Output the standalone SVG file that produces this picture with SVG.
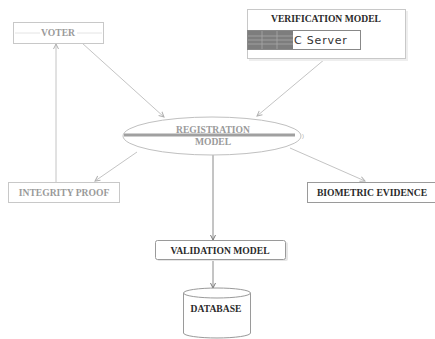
<svg xmlns="http://www.w3.org/2000/svg" width="435" height="339" viewBox="0 0 435 339">
<defs>
<style>
.box{fill:#fff;stroke:#c8c8c8;stroke-width:1}
.dbox{fill:#fff;stroke:#9a9a9a;stroke-width:1}
.t{font-family:"Liberation Serif","Times New Roman",serif;font-weight:bold;font-size:9.6px;text-anchor:middle}
.lt{fill:#9a9a9a}
.dt{fill:#2a2a2a}
.c{stroke:#c4c4c4;stroke-width:1;fill:none;marker-end:url(#ah)}
.cd{stroke:#8a8a8a;stroke-width:1;fill:none;marker-end:url(#ahd)}
</style>
<marker id="ah" markerWidth="8" markerHeight="8" refX="6" refY="3.5" orient="auto" markerUnits="userSpaceOnUse">
<path d="M1,1 L6,3.5 L1,6" fill="none" stroke="#b0b0b0" stroke-width="1"/>
</marker>
<marker id="ahd" markerWidth="8" markerHeight="8" refX="6" refY="3.5" orient="auto" markerUnits="userSpaceOnUse">
<path d="M1,1 L6,3.5 L1,6" fill="none" stroke="#7a7a7a" stroke-width="1"/>
</marker>
</defs>
<rect width="435" height="339" fill="#fff"/>

<g id="connectors">
<line class="c" x1="56" y1="182" x2="56" y2="44"/>
<line class="c" x1="82" y1="43" x2="164" y2="117"/>
<line class="c" x1="325" y1="59" x2="257" y2="116"/>
<line class="c" x1="137" y1="152" x2="95" y2="181"/>
<line class="c" x1="290" y1="148" x2="365" y2="181"/>
<line class="cd" x1="213" y1="155" x2="213" y2="240"/>
<line class="cd" x1="213" y1="259" x2="213" y2="288"/>
</g>

<g id="voter">
<rect class="box" x="13.5" y="22.5" width="90" height="21"/>
<line x1="15" y1="33" x2="40" y2="33" stroke="#e4e4e4" stroke-width="1"/>
<line x1="77" y1="33" x2="102" y2="33" stroke="#e4e4e4" stroke-width="1"/>
<text class="t lt" x="58" y="36">VOTER</text>
</g>

<g id="verification">
<rect x="249" y="11" width="159" height="50" fill="#eee"/>
<rect class="box" x="247.5" y="9.5" width="158" height="49"/>
<text class="t dt" x="326" y="22">VERIFICATION MODEL</text>
<rect x="247.5" y="30.5" width="113" height="19" fill="#fff" stroke="#888"/>
<rect x="248" y="31" width="45" height="18" fill="#7d7d7d"/>
<g stroke="#a8a8a8" stroke-width="0.8">
<line x1="248" y1="36" x2="293" y2="36"/>
<line x1="248" y1="40" x2="293" y2="40"/>
<line x1="248" y1="44" x2="293" y2="44"/>
<line x1="262" y1="31" x2="262" y2="49"/>
<line x1="277" y1="31" x2="277" y2="49"/>
</g>
<text x="294" y="44" font-family="'DejaVu Sans',sans-serif" font-size="11" letter-spacing="0.8" fill="#333">C Server</text>
</g>

<g id="registration">
<ellipse cx="212" cy="136" rx="89" ry="19" fill="#fff" stroke="#c0c0c0" stroke-width="1"/>
<rect x="124" y="133.5" width="171" height="3" fill="#a0a0a0"/>
<text class="t lt" x="213" y="133">REGISTRATION</text>
<text class="t lt" x="213" y="145">MODEL</text>
<text x="302" y="138" font-family="'Liberation Sans',sans-serif" font-size="6" fill="#aaa">)</text>
</g>

<g id="integrity">
<rect class="box" x="8.5" y="182.5" width="111" height="20"/>
<text class="t lt" x="64" y="195.5">INTEGRITY PROOF</text>
</g>

<g id="biometric">
<rect class="dbox" x="307.5" y="182.5" width="130" height="20"/>
<text class="t dt" x="372" y="195.5">BIOMETRIC EVIDENCE</text>
</g>

<g id="validation">
<rect x="157" y="242" width="131" height="19" rx="2" fill="#e6e6e6"/>
<rect class="dbox" x="155.5" y="240.5" width="130" height="19" rx="2"/>
<text class="t dt" x="220" y="253.5">VALIDATION MODEL</text>
</g>

<g id="database">
<path d="M183.5,293 L183.5,333 A33.5,5 0 0 0 250.5,333 L250.5,293" fill="#fff" stroke="#9a9a9a"/>
<ellipse cx="217" cy="293" rx="33.5" ry="5" fill="#fff" stroke="#9a9a9a"/>
<text class="t dt" x="216" y="312">DATABASE</text>
</g>
</svg>
